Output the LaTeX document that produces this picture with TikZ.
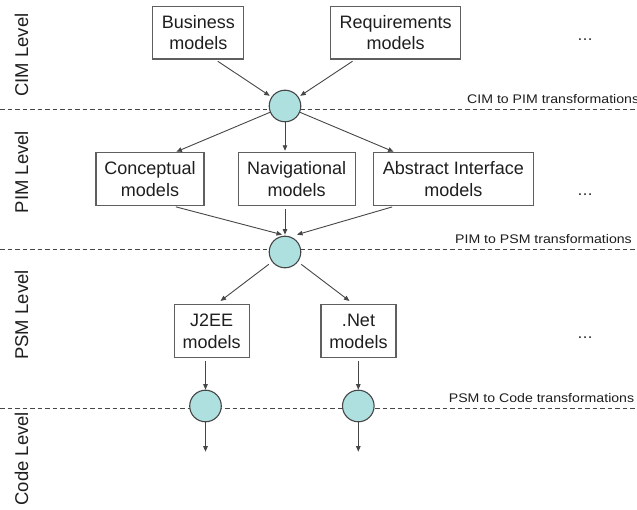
\documentclass[tikz,border=0pt]{standalone}
\usepackage{fontspec}
\usepackage{graphicx}
\setmainfont{Liberation Sans}
\usetikzlibrary{arrows.meta}
\definecolor{circfill}{RGB}{174,224,224}
\definecolor{linegray}{RGB}{70,70,70}
\definecolor{boxgray}{RGB}{95,95,95}
\definecolor{txt}{RGB}{30,30,30}
\tikzset{
  modelbox/.style={draw=boxgray, line width=1.1pt, inner sep=0pt, align=center, text=txt,
    font=\fontsize{18}{21.3}\selectfont, minimum height=52.7pt},
  trans/.style={circle, draw=linegray, fill=circfill, line width=1.1pt, minimum size=31.6pt, inner sep=0pt},
  arr/.style={draw=linegray, line width=0.9pt, -{Triangle[length=5.5pt,width=4.5pt]}},
  lvl/.style={rotate=90, inner sep=0pt, text=txt, font=\fontsize{18.5}{22}\selectfont},
  levelline/.style={draw=linegray, line width=0.9pt, dash pattern=on 4.5pt off 3pt},
  translabel/.style={inner sep=0pt, anchor=base west, text=txt, font=\fontsize{12.5}{15}\selectfont},
  more/.style={inner sep=0pt, anchor=base, text=txt, font=\fontsize{16}{18}\selectfont}
}
\begin{document}
\begin{tikzpicture}[x=1pt, y=-1pt]
\useasboundingbox (0,0) rectangle (637,510);

% level separators
\draw[levelline] (0,109.5) -- (637,109.5);
\draw[levelline] (0,249.5) -- (637,249.5);
\draw[levelline] (0,408.5) -- (637,408.5);

% level labels
\node[lvl, anchor=base] (lcim) at (28,55) {CIM Level};
\node[lvl, anchor=base] (lpim) at (28,172) {PIM Level};
\node[lvl, anchor=base] (lpsm) at (28,315) {PSM Level};
\node[lvl, anchor=base east] (lcode) at (28,411.7) {Code Level};

% transformation labels
\node[translabel] (tcim) at (467,104) {\scalebox{1.13}[1]{CIM to PIM transformations}};
\node[translabel] (tpim) at (455,244) {\scalebox{1.13}[1]{PIM to PSM transformations}};
\node[translabel] (tpsm) at (448.7,402.7) {\scalebox{1.13}[1]{PSM to Code transformations}};

% dots
\node[more] (d1) at (585,41) {…};
\node[more] (d2) at (585,196) {…};
\node[more] (d3) at (585,339) {…};

% CIM models
\node[modelbox, minimum width=91pt] (bm) at (198.3,32.7) {Business\\models};
\node[modelbox, minimum width=130pt] (rm) at (395.7,32.7) {Requirements\\models};

% PIM models
\node[modelbox, minimum width=108pt] (cm) at (150,179.2) {Conceptual\\models};
\node[modelbox, minimum width=116.7pt] (nm) at (296.7,179.2) {Navigational\\models};
\node[modelbox, minimum width=160pt] (am) at (453.3,179.2) {Abstract Interface\\models};

% PSM models
\node[modelbox, minimum width=75.3pt] (j2) at (211.7,331.3) {J2EE\\models};
\node[modelbox, minimum width=75pt] (nt) at (358.5,331.3) {.Net\\models};

% transformations
\node[trans] (c1) at (285,106) {};
\node[trans] (c2) at (285,252) {};
\node[trans] (c3) at (205.5,406) {};
\node[trans] (c4) at (358.3,406) {};

\coordinate (e3) at (205.5,451.7);
\coordinate (e4) at (358.3,451.7);

% connectors
\draw[arr, shorten <=3pt, shorten >=2pt] ([xshift=17pt]bm.south) -- (c1);
\draw[arr, shorten <=3pt, shorten >=2pt] ([xshift=-40.7pt]rm.south) -- (c1);

\draw[arr, shorten >=1.5pt] (c1) -- ([xshift=25pt]cm.north);
\draw[arr, shorten >=1.5pt] (c1) -- ([xshift=-11.7pt]nm.north);
\draw[arr, shorten >=1.5pt] (c1) -- ([xshift=-58.3pt]am.north);

\draw[arr, shorten <=3pt] ([xshift=23pt]cm.south) -- ([xshift=-3pt,yshift=1pt]c2.north);
\draw[arr, shorten <=3pt] ([xshift=-11.7pt]nm.south) -- ([yshift=1pt]c2.north);
\draw[arr, shorten <=3pt] ([xshift=-58.3pt]am.south) -- ([xshift=12pt,yshift=1pt]c2.north);

\draw[arr, shorten <=4pt, shorten >=5.7pt] (c2) -- ([xshift=4.3pt]j2.north);
\draw[arr, shorten <=4pt, shorten >=5.7pt] (c2) -- ([xshift=-4.5pt]nt.north);

\draw[arr, shorten <=3pt] ([xshift=-6.2pt]j2.south) -- (c3);
\draw[arr, shorten <=3pt] ([xshift=-0.2pt]nt.south) -- (c4);

\draw[arr] (c3) -- (e3);
\draw[arr] (c4) -- (e4);
\end{tikzpicture}
\end{document}
